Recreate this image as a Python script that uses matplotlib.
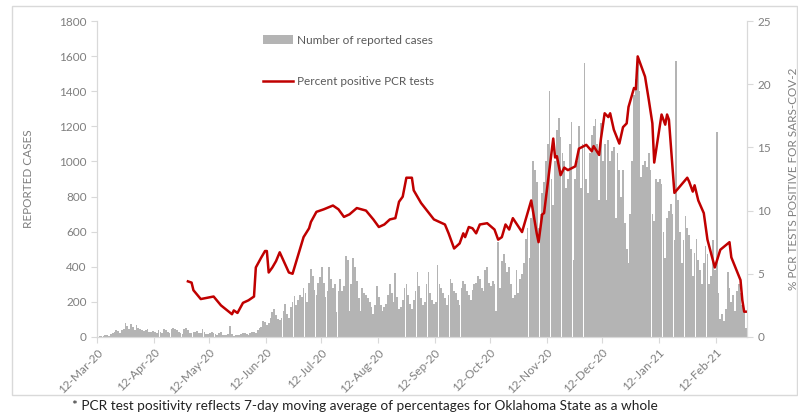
"""
Oklahoma: daily reported cases with PCR test positivity (7-day average)
"""

import pandas as pd
import matplotlib
matplotlib.use('Agg')
import matplotlib.pyplot as plt
import matplotlib.dates as mdates
from matplotlib.patches import Patch, Rectangle
from matplotlib.lines import Line2D

plt.rcParams['font.family'] = ['Lato', 'DejaVu Sans']

START = '2020-03-12'

# daily reported cases, 12-Mar-20 .. 28-Feb-21
cases_mar_apr = [2, 3, 5, 8, 12, 10, 8, 15, 22, 30, 38, 35, 25, 40, 45, 80, 60, 48, 72, 55,
                 42, 68, 52, 44, 40, 32, 38, 45, 30, 28, 35]
cases_apr_may = [28, 20, 42, 30, 25, 45, 38, 30, 22, 48, 50, 45, 42, 30, 22, 18, 45, 52, 38, 25,
                 20, 28, 30, 32, 25, 22, 46, 30, 18, 15]
cases_may_jun = [20, 30, 25, 18, 12, 24, 28, 14, 10, 12, 16, 62, 18, 8, 10, 14, 12, 15, 20, 22,
                 18, 12, 24, 30, 28, 22, 40, 50, 55, 90, 85]
cases_jun_jul = [70, 80, 110, 145, 160, 125, 100, 95, 110, 150, 190, 130, 110, 170, 200, 235, 180,
                 210, 240, 230, 280, 250, 200, 310, 390, 350, 270, 240, 310, 340]
cases_jul_aug = [400, 310, 230, 260, 400, 330, 280, 300, 140, 260, 330, 260, 290, 460, 440, 150,
                 300, 450, 400, 320, 220, 150, 280, 250, 240, 220, 200, 170, 130, 180, 290]
cases_aug_sep = [230, 180, 150, 170, 190, 240, 300, 250, 200, 365, 230, 160, 170, 210, 280, 300,
                 240, 190, 160, 210, 260, 370, 290, 220, 180, 200, 300, 370, 250, 210, 190]
cases_sep_oct = [200, 410, 300, 280, 250, 220, 180, 240, 330, 310, 260, 250, 210, 180, 280, 320,
                 300, 260, 240, 210, 270, 300, 310, 350, 330, 280, 260, 380, 400, 310]
cases_oct_nov = [290, 320, 300, 150, 540, 280, 430, 470, 420, 370, 400, 300, 220, 240, 380, 250,
                 330, 360, 420, 560, 620, 450, 680, 1005, 950, 880, 620, 700, 820, 880, 1000]
cases_nov_dec = [1100, 1400, 900, 750, 1000, 1180, 1250, 1140, 1050, 1000, 850, 900, 1100, 1225,
                 440, 900, 1000, 1200, 850, 1100, 1560, 900, 820, 1050, 1150, 1200, 1240, 1100,
                 780, 1220]
cases_dec_jan = [1000, 1100, 780, 1120, 1000, 1060, 1080, 680, 1050, 950, 800, 950, 650, 500,
                 420, 700, 1000, 1380, 1470, 1600, 1400, 910, 980, 1000, 970, 1050, 950, 700,
                 660, 900, 880]
cases_jan_feb = [900, 870, 600, 450, 680, 720, 760, 700, 550, 1570, 780, 600, 420, 550, 690, 620,
                 580, 500, 350, 480, 560, 440, 380, 300, 420, 520, 470, 300, 350, 550, 380]
cases_feb = [1167, 250, 100, 130, 90, 160, 370, 280, 200, 240, 150, 260, 300, 250, 180, 140, 50]

cases = (cases_mar_apr + cases_apr_may + cases_may_jun + cases_jun_jul + cases_jul_aug
         + cases_aug_sep + cases_sep_oct + cases_oct_nov + cases_nov_dec + cases_dec_jan
         + cases_jan_feb + cases_feb)

# percent positive PCR tests: day offset from 12-Mar-20 and value
pcr_day = [49, 51, 52, 56, 63, 67, 73, 74, 76, 79, 82, 85, 86, 89, 91, 92, 93, 95, 97, 99,
           104, 106, 112, 115, 116, 119, 123, 128, 131, 134, 137, 141, 146, 150, 153, 156, 159,
           162, 164, 166, 168, 171, 172, 176, 183, 189, 191, 194, 197, 199, 200, 202, 204, 206,
           208, 212, 216, 218, 220, 222, 224, 226, 231, 236, 239, 240, 242, 243, 248, 249, 250,
           252, 254, 256, 260, 262, 266, 269, 270, 273, 274, 276, 278, 279, 281, 284, 286, 288,
           289, 292, 293, 294, 298, 300, 302, 303, 307, 309, 310, 311, 314, 321, 322, 324, 325,
           327, 330, 332, 336, 339, 344, 345, 350, 351, 352, 353]
pcr_pct = [4.4, 4.3, 3.7, 3.0, 3.2, 2.5, 1.8, 2.1, 1.9, 2.7, 2.9, 3.2, 5.5, 6.3, 6.8, 6.8, 5.1,
           5.5, 6.0, 6.7, 5.1, 5.0, 7.9, 8.6, 9.1, 9.9, 10.1, 10.4, 10.1, 9.5, 9.7, 10.2, 10.0,
           9.3, 8.7, 8.9, 9.3, 9.4, 10.7, 11.1, 12.6, 12.6, 11.6, 10.6, 9.3, 8.9, 8.2, 7.0, 7.4,
           8.2, 7.9, 8.7, 8.6, 8.2, 8.9, 9.0, 8.5, 7.7, 7.9, 8.9, 8.5, 9.4, 8.3, 10.8, 8.2, 7.5,
           9.7, 9.8, 15.7, 14.2, 14.3, 12.8, 13.4, 13.2, 13.5, 14.9, 15.2, 14.7, 15.1, 14.4, 15.7,
           17.7, 17.4, 17.7, 16.4, 15.3, 16.6, 16.9, 18.2, 19.7, 19.6, 22.2, 20.6, 18.8, 16.9,
           13.8, 17.6, 16.8, 17.6, 17.2, 11.4, 12.6, 12.3, 11.5, 12.0, 10.8, 9.8, 7.7, 5.5, 6.9,
           7.5, 6.3, 4.5, 2.9, 2.0, 2.0]

GRAY_TXT = '#7f7f7f'
AXIS_LINE = '#d9d9d9'

start = pd.Timestamp(START)
dates = pd.date_range(START, periods=len(cases))
pcr_dates = [start + pd.Timedelta(days=d) for d in pcr_day]
half = pd.Timedelta(hours=12)

fig = plt.figure(figsize=(7.98, 4.16), dpi=100)
ax = fig.add_axes([0.1216, 0.19, 0.8144, 0.7595])
ax2 = ax.twinx()

ax.bar(dates + half, cases, width=0.95, color='#b4b4b4', linewidth=0)
ax2.plot([d + half for d in pcr_dates], pcr_pct, color='#c00000', linewidth=1.8)

ax.set_xlim(start, start + pd.Timedelta(days=len(cases)))
ax.set_ylim(0, 1800)
ax.set_yticks(range(0, 1801, 200))
ax2.set_ylim(0, 25)
ax2.set_yticks(range(0, 26, 5))

ticks = pd.date_range(START, '2021-02-12', freq=pd.DateOffset(months=1))
ax.set_xticks(ticks)
ax.xaxis.set_major_formatter(mdates.DateFormatter('%d-%b-%y'))
for lab in ax.get_xticklabels():
    lab.set_rotation(45)
    lab.set_ha('right')
    lab.set_rotation_mode('anchor')

for a in (ax, ax2):
    for s in a.spines.values():
        s.set_color(AXIS_LINE)
    a.spines['top'].set_visible(False)
    a.tick_params(colors=AXIS_LINE, labelcolor=GRAY_TXT, labelsize=8.5, length=4, width=0.8)
ax.tick_params(axis='x', pad=3)

ax.set_ylabel('REPORTED CASES', color=GRAY_TXT, fontsize=8.5, labelpad=18)
ax2.set_ylabel('% PCR TESTS POSITIVE FOR SARS-COV-2', color=GRAY_TXT, fontsize=8.5, labelpad=12)

handles = [Patch(facecolor='#b4b4b4', edgecolor='none'),
           Line2D([0], [0], color='#c00000', linewidth=1.8)]
fig.legend(handles, ['Number of reported cases', 'Percent positive PCR tests'],
           loc='upper left', bbox_to_anchor=(0.316, 0.942), frameon=False,
           fontsize=8.5, labelcolor='#595959', handlelength=2.6, handleheight=0.7,
           handletextpad=0.3, labelspacing=2.6)

# light border around the chart area
fig.patches.append(Rectangle((0.015, 0.05), 0.984, 0.935, transform=fig.transFigure,
                             fill=False, edgecolor='#d9d9d9', linewidth=1))

fig.text(0.09, 0.014, '* PCR test positivity reflects 7-day moving average of percentages '
         'for Oklahoma State as a whole', fontsize=9.8, color='#222222')

fig.savefig('out.png', dpi=100)
